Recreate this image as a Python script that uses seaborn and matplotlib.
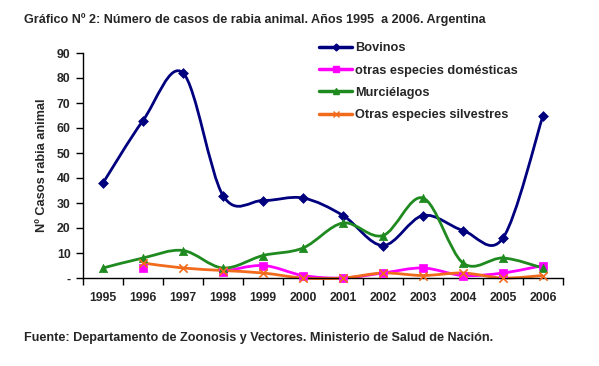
import numpy as np
import pandas as pd
import seaborn as sns
import matplotlib.pyplot as plt
from matplotlib.path import Path
from matplotlib.patches import PathPatch
from matplotlib.lines import Line2D

# Datos
anios = ["1995", "1996", "1997", "1998", "1999", "2000",
         "2001", "2002", "2003", "2004", "2005", "2006"]
bovinos = [38, 63, 82, 33, 31, 32, 25, 13, 25, 19, 16, 65]
domesticas = [np.nan, 4, np.nan, 2.5, 5, 1, 0, 2, 4, 1, 2, 5]
murcielagos = [4, 8, 11, 4, 9, 12, 22, 17, 32, 6, 8, 4]
silvestres = [np.nan, 6, 4, 3, 2, 0, 0, 2, 1, 2, 0, 1]

series = [
    ("Bovinos", bovinos, "#00007F", "D", 5),
    ("otras especies domésticas", domesticas, "#FF00FF", "s", 6),
    ("Murciélagos", murcielagos, "#1F8A1F", "^", 6),
    ("Otras especies silvestres", silvestres, "#F26B1D", "x", 6),
]


def curva_suave(x, y):
    """Path de Bezier tipo 'línea suavizada' de Excel; corta en NaN."""
    verts, codes = [], []
    tramos, actual = [], []
    for xi, yi in zip(x, y):
        if np.isnan(yi):
            if actual:
                tramos.append(actual)
            actual = []
        else:
            actual.append((xi, yi))
    if actual:
        tramos.append(actual)
    for t in tramos:
        if len(t) < 2:
            continue
        p = np.array(t, dtype=float)
        verts.append(p[0]); codes.append(Path.MOVETO)
        for i in range(len(p) - 1):
            p0 = p[i - 1] if i > 0 else p[i]
            p3 = p[i + 2] if i + 2 < len(p) else p[i + 1]
            c1 = p[i] + (p[i + 1] - p0) / 6
            c2 = p[i + 1] - (p3 - p[i]) / 6
            verts += [c1, c2, p[i + 1]]
            codes += [Path.CURVE4] * 3
    if not verts:
        return None
    return Path(verts, codes)


sns.set_style("ticks")
plt.rcParams['font.family'] = ['Liberation Sans', 'DejaVu Sans']

fig = plt.figure(figsize=(5.99, 3.66), dpi=100)
ax = fig.add_axes([83 / 599, 1 - 278 / 366, 480 / 599, 225 / 366])

xpos = np.arange(len(anios))
handles = []
for nombre, vals, color, marca, ms in series:
    df = pd.DataFrame({"x": xpos, "y": vals})
    camino = curva_suave(df["x"].values, df["y"].values)
    if camino is not None:
        ax.add_patch(PathPatch(camino, facecolor="none", edgecolor=color,
                               lw=2, zorder=2, clip_on=False))
    sns.scatterplot(data=df.dropna(), x="x", y="y", ax=ax, color=color,
                    marker=marca, s=ms ** 2, edgecolor=color if marca != "x" else None,
                    linewidth=1.2 if marca == "x" else 0.5, zorder=3, clip_on=False)
    handles.append(Line2D([0], [0], color=color, lw=2.5, marker=marca,
                          markersize=ms - 1.5, markeredgecolor=color))

ax.set_xlim(-0.5, 11.5)
ax.set_ylim(0, 90)
ax.set_xticks(xpos)
ax.set_xticklabels(anios, fontsize=8.8, fontweight="bold")
ax.set_xticks(np.arange(-0.5, 12, 1), minor=True)
ax.tick_params(axis="x", which="major", length=0, pad=10)
ax.tick_params(axis="x", which="minor", length=5, width=1, color="black")
ax.set_yticks(range(0, 91, 10))
ax.set_yticklabels(["-"] + [str(v) for v in range(10, 91, 10)],
                   fontsize=8.8, fontweight="bold")
ax.tick_params(axis="y", length=5, width=1, color="black", pad=4)
for s in ["left", "bottom"]:
    ax.spines[s].set_color("black")
    ax.spines[s].set_linewidth(1)
sns.despine(ax=ax)
ax.set_xlabel("")
ax.set_ylabel("Nº Casos rabia animal", fontsize=9.2, fontweight="bold", labelpad=6)

ax.legend(handles, [s[0] for s in series], loc="upper left",
          bbox_to_anchor=(0.468, 1.098), frameon=False,
          handlelength=2.6, handletextpad=0.2, labelspacing=0.8,
          prop={"weight": "bold", "size": 9.2})

fig.text(24 / 599, 1 - 20 / 366,
         "Gráfico Nº 2: Número de casos de rabia animal. Años 1995  a 2006. Argentina",
         fontsize=9.05, fontweight="bold", va="center", ha="left")
fig.text(24 / 599, 1 - 338 / 366,
         "Fuente: Departamento de Zoonosis y Vectores. Ministerio de Salud de Nación.",
         fontsize=9.1, fontweight="bold", va="center", ha="left")

fig.savefig("out.png", dpi=100)
